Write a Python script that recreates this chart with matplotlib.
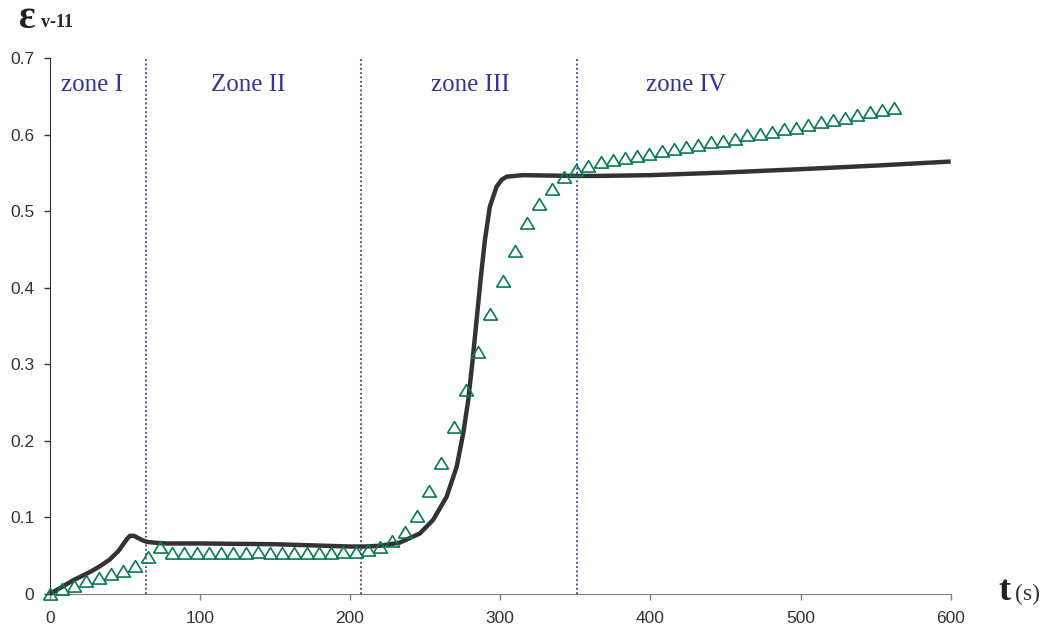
import matplotlib
matplotlib.use("Agg")
import matplotlib.pyplot as plt

# measured points (triangles)
tri_t = [0, 8.2, 16.3, 24.5, 32.6, 40.8, 48.9, 57.1, 65.2, 73.4,
         81.5, 89.7, 97.8, 106.0, 114.1, 122.3, 130.4, 138.6, 146.7, 154.9,
         163.0, 171.2, 179.3, 187.5, 195.6, 203.8, 211.9, 220.1, 228.2, 236.4,
         244.5, 252.7, 260.8, 269.0, 277.1, 285.3, 293.4, 301.6, 309.7, 317.9,
         326.0, 334.2, 342.3, 350.5, 358.6, 366.8, 374.9, 383.1, 391.2, 399.4,
         407.5, 415.7, 423.8, 432.0, 440.1, 448.3, 456.4, 464.6, 472.7, 480.9,
         489.0, 497.2, 505.3, 513.5, 521.6, 529.8, 537.9, 546.1, 554.2, 562.4]
tri_eps = [0.000, 0.006, 0.011, 0.017, 0.021, 0.026, 0.030, 0.037, 0.048, 0.062,
           0.054, 0.054, 0.054, 0.054, 0.054, 0.054, 0.054, 0.055, 0.054, 0.054,
           0.054, 0.054, 0.054, 0.054, 0.055, 0.055, 0.057, 0.062, 0.069, 0.081,
           0.102, 0.134, 0.171, 0.218, 0.267, 0.316, 0.366, 0.409, 0.448, 0.484,
           0.509, 0.529, 0.544, 0.554, 0.559, 0.564, 0.567, 0.570, 0.572, 0.575,
           0.578, 0.581, 0.584, 0.587, 0.590, 0.592, 0.594, 0.599, 0.601, 0.604,
           0.607, 0.609, 0.613, 0.617, 0.619, 0.622, 0.626, 0.629, 0.632, 0.635]

# simulated curve
sim_t = [0, 8, 15.7, 22, 28, 34, 40, 45.7, 49, 51.5, 53.5, 56, 59, 62, 65,
         70, 78, 87, 100, 150, 200, 210, 220, 233, 246.5, 255.4, 264.3, 271,
         275.4, 278.7, 281.6, 284.3, 286.9, 289.8, 293.1, 297.6, 301, 304.3,
         315, 349, 366, 400, 450, 500, 550, 600]
sim_eps = [0.000, 0.009, 0.018, 0.024, 0.030, 0.037, 0.045, 0.056, 0.065, 0.072,
           0.076, 0.076, 0.073, 0.070, 0.068, 0.067, 0.066, 0.066, 0.066, 0.065,
           0.062, 0.062, 0.063, 0.067, 0.079, 0.097, 0.127, 0.166, 0.210, 0.253,
           0.305, 0.358, 0.410, 0.462, 0.506, 0.532, 0.541, 0.545, 0.547, 0.546,
           0.546, 0.547, 0.5505, 0.5548, 0.5595, 0.5648]

zone_bounds = [64.1, 207.5, 351.2]
zone_names = ["zone I", "Zone II", "zone III", "zone IV"]
zone_label_t = [28.2, 132, 280, 424]

W, H = 1048, 632
fig = plt.figure(figsize=(W / 100, H / 100), dpi=100)
ax = fig.add_axes([49.7 / W, 1 - 594 / H, 901 / W, 536 / H])

ax.vlines(zone_bounds, 0, 0.7, colors="#3c3caa", linestyles=(0, (1, 1.4)), linewidth=1.3)

ax.plot(sim_t, sim_eps, color="#333333", linewidth=3.2, solid_capstyle="butt",
        solid_joinstyle="round", clip_on=False, zorder=3)

tri = [(-1, -0.8), (1, -0.8), (0, 0.85), (-1, -0.8)]
ax.plot(tri_t, tri_eps, linestyle="none", marker=tri, markersize=10,
        markerfacecolor="none", markeredgecolor="#0a7a50", markeredgewidth=1.2,
        clip_on=False, zorder=4)

for name, xt in zip(zone_names, zone_label_t):
    ax.text(xt, 0.665, name, ha="center", va="center", fontsize=18,
            family="Liberation Serif", color="#333399")

ax.set_xlim(0, 600)
ax.set_ylim(0, 0.7)
ax.set_xticks([0, 100, 200, 300, 400, 500, 600])
ax.set_yticks([0, 0.1, 0.2, 0.3, 0.4, 0.5, 0.6, 0.7])
ax.set_yticklabels(["0", "0.1", "0.2", "0.3", "0.4", "0.5", "0.6", "0.7"])
ax.tick_params(direction="out", length=4, width=1, labelsize=12.5, colors="#333333")
ax.tick_params(axis="y", pad=7)
ax.tick_params(axis="x", pad=8, color="#808080")
for lbl in ax.get_xticklabels() + ax.get_yticklabels():
    lbl.set_family("Liberation Sans")

ax.spines["top"].set_visible(False)
ax.spines["right"].set_visible(False)
ax.spines["left"].set_color("#333333")
ax.spines["bottom"].set_color("#808080")

# axis titles
fig.text(19 / W, 1 - 28 / H, "ε", fontsize=28, fontweight="bold",
         family="Liberation Serif", color="#222222", va="baseline")
fig.text(41 / W, 1 - 27 / H, "v-11", fontsize=13, fontweight="bold",
         family="Liberation Serif", color="#222222", va="baseline")
fig.text(998 / W, 1 - 600 / H, "t", fontsize=26, fontweight="bold",
         family="Liberation Serif", color="#222222", va="baseline")
fig.text(1015 / W, 1 - 600 / H, "(s)", fontsize=17,
         family="Liberation Serif", color="#333333", va="baseline")

fig.savefig("out.png", dpi=100, facecolor="white")
